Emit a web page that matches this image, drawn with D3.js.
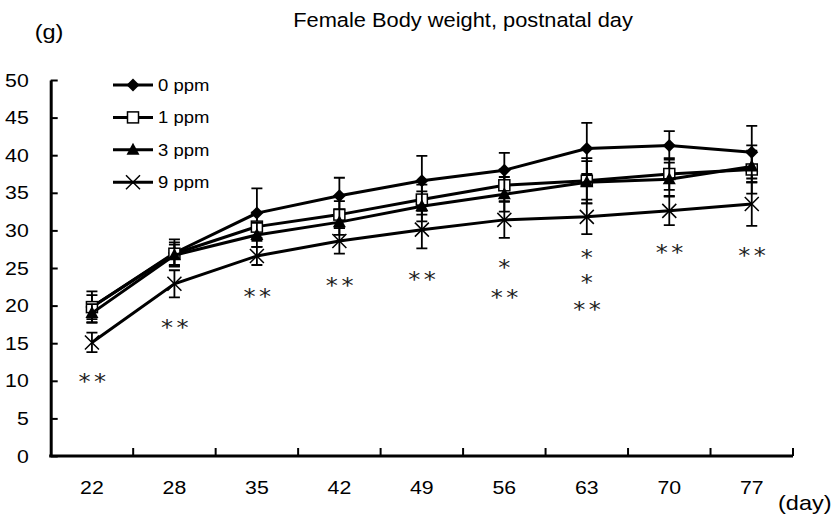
<!DOCTYPE html>
<html>
<head>
<meta charset="utf-8">
<script src="https://cdn.jsdelivr.net/npm/d3@7"></script>
<style>
  body { margin: 0; background: #fff; }
  text { font-family: "Liberation Sans", Arial, sans-serif; fill: #000; }
  .sig { font-family: "DejaVu Sans", sans-serif; fill: #222; }
</style>
</head>
<body>
<div id="chart"></div>
<script>
// Female body weight by postnatal day
const days = [22, 28, 35, 42, 49, 56, 63, 70, 77];
const yTicks = [0, 5, 10, 15, 20, 25, 30, 35, 40, 45, 50];

const mean0 = [19.8, 27.0, 32.3, 34.6, 36.6, 38.0, 40.9, 41.3, 40.4];
const sd0   = [2.1, 1.8, 3.3, 2.4, 3.3, 2.3, 3.4, 1.9, 3.5];
const mean1 = [19.8, 26.9, 30.5, 32.1, 34.1, 36.0, 36.6, 37.5, 38.1];
const sd1   = [1.6, 1.5, 1.9, 1.8, 2.0, 2.1, 3.0, 2.1, 3.2];
const mean3 = [19.0, 26.7, 29.4, 31.1, 33.2, 34.8, 36.4, 36.8, 38.5];
const sd3   = [1.2, 1.4, 1.6, 1.7, 2.0, 2.3, 2.8, 2.2, 2.1];
const mean9 = [15.1, 22.9, 26.6, 28.6, 30.1, 31.4, 31.8, 32.6, 33.5];
const sd9   = [1.3, 1.8, 1.2, 1.7, 2.5, 2.4, 2.3, 1.9, 2.9];

// significance marks (day, text, height in g where the mark sits)
const sigDay  = [22, 28, 35, 42, 49, 56, 56, 63, 63, 63, 70, 77];
const sigMark = ["**", "**", "**", "**", "**", "*", "**", "*", "*", "**", "**", "**"];
const sigAt   = [10.5, 17.7, 21.8, 23.3, 24.1, 25.7, 21.7, 27.0, 23.7, 20.1, 27.7, 27.3];

const series = [
    { name: "0 ppm", mean: mean0, sd: sd0, marker: "diamond" },
    { name: "1 ppm", mean: mean1, sd: sd1, marker: "square" },
    { name: "3 ppm", mean: mean3, sd: sd3, marker: "triangle" },
    { name: "9 ppm", mean: mean9, sd: sd9, marker: "cross" }
];

const W = 835, H = 521;
const sx = 1.12; // text in the source is slightly wide

const svg = d3.select("#chart").append("svg")
    .attr("width", W)
    .attr("height", H);

const x = d3.scaleBand().domain(days).range([50.7, 793]).padding(0);
const y = d3.scaleLinear().domain([0, 50]).range([456, 80]);
const cx = d => x(d) + x.bandwidth() / 2;

function label(sel, tx, ty, str, size, anchor) {
    return sel.append("text")
        .attr("transform", `translate(${tx},${ty}) scale(${sx},1)`)
        .attr("text-anchor", anchor || "start")
        .style("font-size", size + "px")
        .text(str);
}

// titles
label(svg, 463, 27, "Female Body weight, postnatal day", 19.5, "middle");
label(svg, 49, 39, "(g)", 21, "middle");
label(svg, 778, 510, "(day)", 21, "start");

// y axis
const yAxis = svg.append("g")
    .attr("transform", `translate(${x.range()[0]},0)`)
    .call(d3.axisLeft(y).tickValues(yTicks).tickSizeInner(-7).tickSizeOuter(0).tickPadding(22));
yAxis.select(".domain").attr("stroke-width", 3);
yAxis.selectAll(".tick line").attr("stroke-width", 2);
yAxis.selectAll(".tick text")
    .attr("font-size", null)
    .style("font-size", "19px")
    .attr("transform", `scale(${sx},1)`)
    .attr("x", -22 / sx);

// x axis: labels at band centres, ticks at band edges
const xAxis = svg.append("g")
    .attr("transform", `translate(0,${y(0)})`)
    .call(d3.axisBottom(x).tickSize(0).tickPadding(0));
xAxis.select(".domain").attr("stroke-width", 3).attr("d", `M${x.range()[0] - 1.5},0H${x.range()[1]}`);
xAxis.selectAll(".tick text").remove();
days.forEach(d => label(svg, cx(d), 494, d, 19, "middle"));

svg.append("g").selectAll("line")
    .data(days)
    .enter().append("line")
    .attr("x1", d => x(d) + x.bandwidth())
    .attr("x2", d => x(d) + x.bandwidth())
    .attr("y1", y(0))
    .attr("y2", y(0) - 8)
    .attr("stroke", "#000")
    .attr("stroke-width", 2);

// markers
function drawMarker(g, type, px, py) {
    if (type === "diamond") {
        g.append("path")
            .attr("d", `M${px},${py - 6.5}L${px + 6.5},${py}L${px},${py + 6.5}L${px - 6.5},${py}Z`)
            .attr("fill", "#000");
    } else if (type === "square") {
        g.append("rect")
            .attr("x", px - 5.5).attr("y", py - 5.5)
            .attr("width", 11).attr("height", 11)
            .attr("fill", "#fff").attr("stroke", "#000").attr("stroke-width", 1.5);
    } else if (type === "triangle") {
        g.append("path")
            .attr("d", `M${px},${py - 7}L${px + 6.5},${py + 5}L${px - 6.5},${py + 5}Z`)
            .attr("fill", "#000");
    } else {
        g.append("path")
            .attr("d", `M${px - 7},${py - 7}L${px + 7},${py + 7}M${px + 7},${py - 7}L${px - 7},${py + 7}`)
            .attr("stroke", "#000").attr("stroke-width", 1.5);
    }
}

const line = d3.line()
    .x((v, i) => cx(days[i]))
    .y(v => y(v));

const plot = svg.append("g");
series.forEach(s => {
    const g = plot.append("g");
    g.append("path")
        .datum(s.mean)
        .attr("d", line)
        .attr("fill", "none")
        .attr("stroke", "#000")
        .attr("stroke-width", 3);

    // error bars (mean +/- SD)
    s.mean.forEach((m, i) => {
        const px = cx(days[i]);
        const top = y(m + s.sd[i]), bot = y(m - s.sd[i]);
        g.append("path")
            .attr("d", `M${px},${top}V${bot}M${px - 5.5},${top}H${px + 5.5}M${px - 5.5},${bot}H${px + 5.5}`)
            .attr("fill", "none")
            .attr("stroke", "#000")
            .attr("stroke-width", 1.8);
    });

    s.mean.forEach((m, i) => drawMarker(g, s.marker, cx(days[i]), y(m)));
});

// significance marks
sigDay.forEach((d, i) => {
    const two = sigMark[i].length > 1;
    svg.append("text")
        .attr("class", "sig")
        .attr("transform", `translate(${cx(d) + (two ? 2 : 0)},${y(sigAt[i])}) scale(1.15,1)`)
        .attr("dy", "0.58em")
        .attr("text-anchor", "middle")
        .style("font-size", "21px")
        .style("letter-spacing", two ? "3px" : "0px")
        .text(sigMark[i]);
});

// legend
const legend = svg.append("g");
series.forEach((s, i) => {
    const ly = 85 + i * 32.4;
    legend.append("line")
        .attr("x1", 113).attr("x2", 153)
        .attr("y1", ly).attr("y2", ly)
        .attr("stroke", "#000").attr("stroke-width", 3);
    drawMarker(legend, s.marker, 133, ly);
    label(legend, 158, ly + 6, s.name, 16.5, "start");
});
</script>
</body>
</html>
